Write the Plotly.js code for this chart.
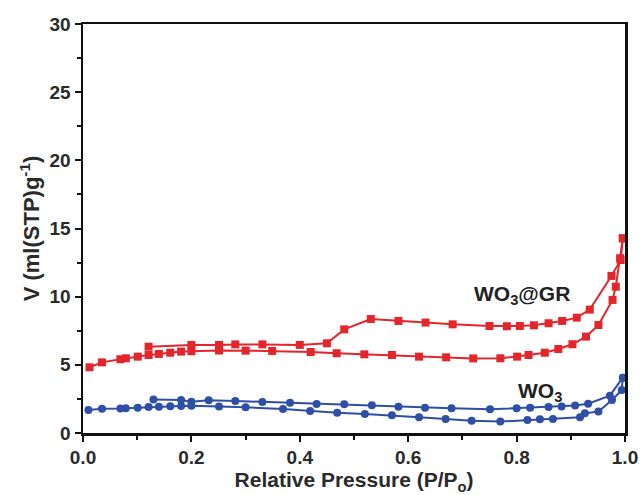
<!DOCTYPE html>
<html>
<head>
<meta charset="utf-8">
<script src="https://cdn.plot.ly/plotly-3.0.1.min.js"></script>
<style>html,body{margin:0;padding:0;background:#fff;}#chart{width:641px;height:495px;}</style>
</head>
<body>
<div id="chart"></div>
<script>
// WO3@GR adsorption branch (lower)
var grAdsX = [0.012,0.035,0.069,0.079,0.101,0.121,0.14,0.161,0.181,0.2,0.251,0.3,0.349,0.42,0.468,0.519,0.57,0.62,0.67,0.72,0.77,0.801,0.822,0.852,0.877,0.903,0.928,0.951,0.977,0.983,0.991,0.996];
var grAdsY = [4.82,5.18,5.41,5.48,5.6,5.72,5.8,5.89,5.97,6.0,6.05,6.04,6.02,5.94,5.85,5.77,5.72,5.6,5.55,5.47,5.48,5.6,5.72,5.89,6.16,6.51,7.07,7.92,9.76,10.73,12.82,14.28];
// WO3@GR desorption branch (upper)
var grDesX = [0.121,0.2,0.251,0.281,0.331,0.4,0.45,0.482,0.531,0.582,0.632,0.682,0.75,0.782,0.806,0.832,0.859,0.884,0.911,0.935,0.975,0.992,0.996];
var grDesY = [6.33,6.46,6.46,6.5,6.5,6.46,6.58,7.6,8.36,8.22,8.1,7.97,7.85,7.83,7.85,7.9,8.05,8.22,8.46,9.05,11.52,12.69,14.28];
// WO3 adsorption branch (lower)
var wAdsX = [0.01,0.035,0.069,0.079,0.101,0.121,0.14,0.161,0.181,0.2,0.251,0.3,0.369,0.419,0.469,0.52,0.57,0.62,0.669,0.717,0.77,0.82,0.843,0.867,0.917,0.926,0.951,0.976,0.994,0.996];
var wAdsY = [1.69,1.78,1.8,1.82,1.86,1.9,1.93,1.96,1.98,2.0,1.95,1.88,1.76,1.61,1.49,1.39,1.3,1.16,1.02,0.9,0.84,0.95,1.0,1.03,1.15,1.44,1.58,2.42,3.15,4.06];
// WO3 desorption branch (upper)
var wDesX = [0.13,0.181,0.2,0.232,0.281,0.331,0.382,0.431,0.482,0.533,0.582,0.631,0.68,0.751,0.8,0.825,0.859,0.883,0.908,0.932,0.972,0.996];
var wDesY = [2.45,2.42,2.3,2.4,2.35,2.28,2.22,2.13,2.1,2.03,1.93,1.86,1.81,1.74,1.81,1.86,1.9,1.95,2.02,2.15,2.74,4.06];

var xTicks = [0, 0.2, 0.4, 0.6, 0.8, 1.0];
var xTickText = ['0.0','0.2','0.4','0.6','0.8','1.0'];
var yTicks = [0,5,10,15,20,25,30];

var red = '#e3262c';
var blue = '#2f4ea6';
function tr(x, y, color, symbol) {
  return {x: x, y: y, type: 'scatter', mode: 'lines+markers',
    line: {color: color, width: 2},
    marker: {color: color, symbol: symbol, size: 8},
    showlegend: false, hoverinfo: 'none', cliponaxis: false};
}
var data = [
  tr(wAdsX, wAdsY, blue, 'circle'),
  tr(wDesX, wDesY, blue, 'circle'),
  tr(grAdsX, grAdsY, red, 'square'),
  tr(grDesX, grDesY, red, 'square')
];
var fam = 'Liberation Sans, Arial, sans-serif';
var tickFont = {family: fam, size: 19, color: '#2a2a2a', weight: 'bold'};
var titleFont = {family: fam, size: 21, color: '#2a2a2a', weight: 'bold'};
var layout = {
  width: 641, height: 495,
  margin: {l: 83, r: 16, t: 24, b: 62},
  paper_bgcolor: '#fff', plot_bgcolor: '#fff',
  xaxis: {
    range: [0, 1.0], tickvals: xTicks, ticktext: xTickText,
    showgrid: false, zeroline: false,
    showline: true, linecolor: '#111', linewidth: 2.5, mirror: true,
    ticks: 'outside', ticklen: 6, tickwidth: 2, tickcolor: '#111',
    minor: {dtick: 0.1, ticks: 'outside', ticklen: 4, tickwidth: 2, tickcolor: '#111'},
    tickfont: tickFont,
    title: {text: 'Relative Pressure (P/P<sub>o</sub>)', font: titleFont, standoff: 2}
  },
  yaxis: {
    range: [0, 30], tickvals: yTicks,
    showgrid: false, zeroline: false,
    showline: true, linecolor: '#111', linewidth: 2.5, mirror: true,
    ticks: 'outside', ticklen: 6, tickwidth: 2, tickcolor: '#111',
    minor: {dtick: 2.5, ticks: 'outside', ticklen: 4, tickwidth: 2, tickcolor: '#111'},
    tickfont: tickFont,
    title: {text: 'V (ml(STP)g<sup>-1</sup>)', font: {family: fam, size: 22, color: '#2a2a2a', weight: 'bold'}, standoff: 4}
  },
  annotations: [
    {x: 0.81, y: 10.1, xref: 'x', yref: 'y', text: 'WO<sub>3</sub>@GR', showarrow: false,
     font: {family: fam, size: 21, color: '#222', weight: 'bold'}},
    {x: 0.843, y: 3.03, xref: 'x', yref: 'y', text: 'WO<sub>3</sub>', showarrow: false,
     font: {family: fam, size: 21, color: '#222', weight: 'bold'}}
  ]
};
Plotly.newPlot('chart', data, layout, {staticPlot: true, displayModeBar: false});
</script>
</body>
</html>
